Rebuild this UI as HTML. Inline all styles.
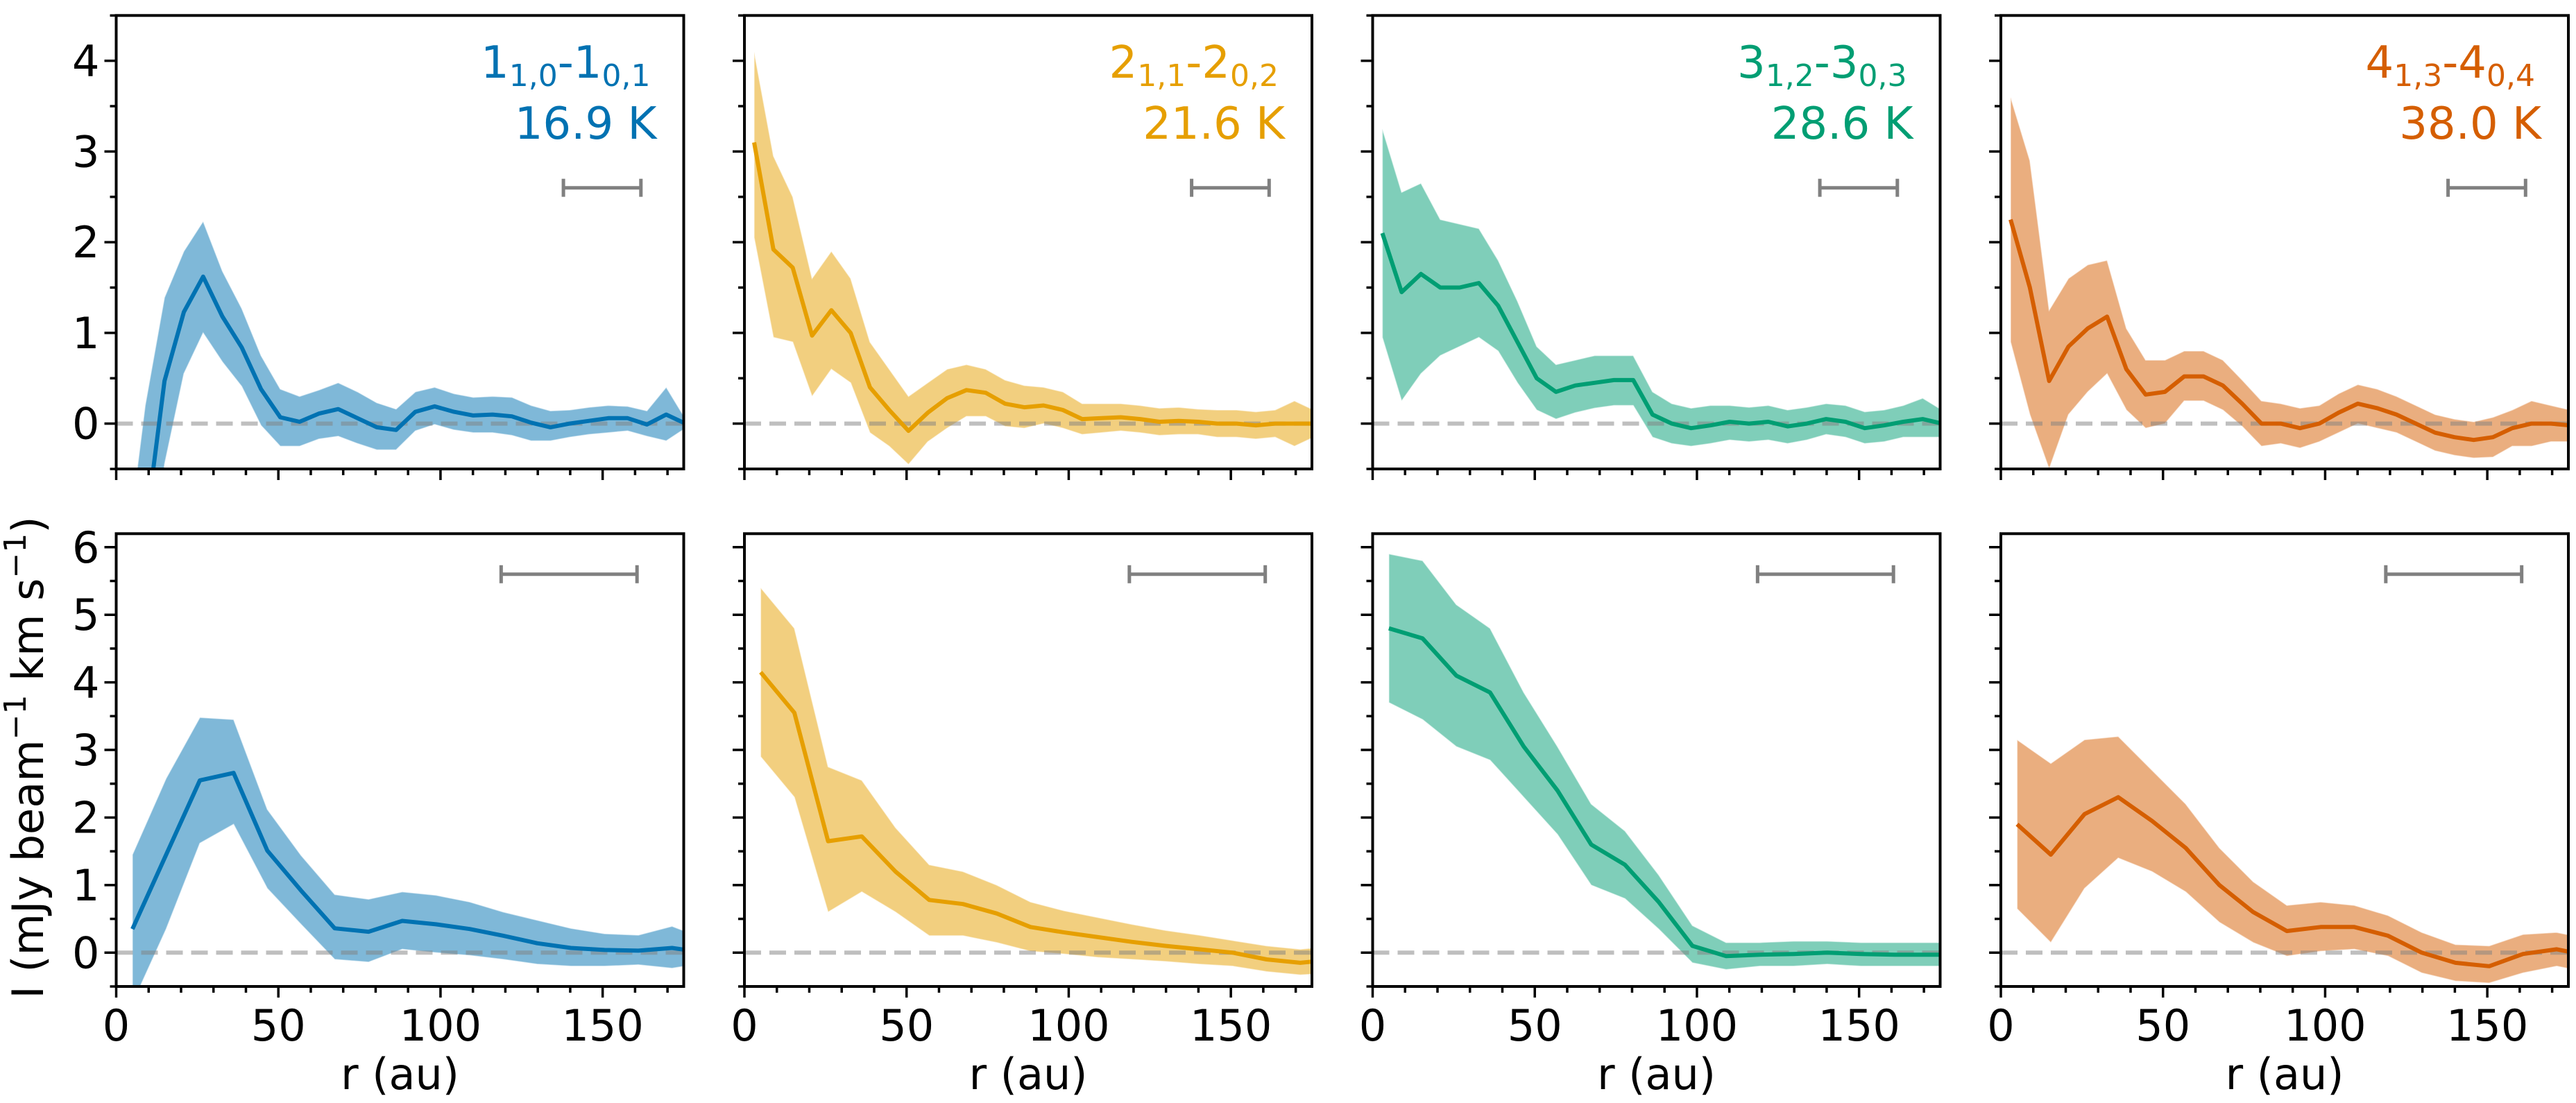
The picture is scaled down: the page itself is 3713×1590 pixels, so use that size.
<!DOCTYPE html>
<html><head><meta charset="utf-8">
<style>
html,body{margin:0;padding:0;background:#fff;}
svg{display:block;font-family:"DejaVu Sans","Liberation Sans",sans-serif;}
</style></head>
<body>
<svg id="fig" width="3713" height="1590" viewBox="0 0 3713 1590" xmlns="http://www.w3.org/2000/svg">
<rect width="3713" height="1590" fill="#fff"/>
<text transform="translate(62,1092) rotate(-90)" text-anchor="middle" font-size="62">I (mJy beam<tspan baseline-shift="super" font-size="44">−1</tspan> km s<tspan baseline-shift="super" font-size="44">−1</tspan>)</text>
</svg>
<script>
// ---- data ----
const r1 = [3,8.95,14.9,20.85,26.8,32.75,38.7,44.65,50.6,56.55,62.5,68.45,74.4,80.35,86.3,92.25,98.2,104.15,110.1,116.05,122,127.95,133.9,139.85,145.8,151.75,157.7,163.65,169.6,175.55];
const r2 = [5,15.4,25.8,36.2,46.6,57,67.4,77.8,88.2,98.6,109,119.4,129.8,140.2,150.6,161,171.4,181.8];

const top1Line = [-3,-1.2,0.47,1.23,1.62,1.18,0.84,0.38,0.07,0.02,0.11,0.16,0.06,-0.04,-0.07,0.13,0.19,0.13,0.09,0.1,0.08,0.01,-0.04,0,0.03,0.06,0.06,-0.01,0.1,0];
const top1Up   = [-1.5,0.2,1.39,1.9,2.23,1.68,1.27,0.75,0.38,0.3,0.37,0.45,0.35,0.23,0.16,0.35,0.4,0.33,0.29,0.3,0.29,0.2,0.14,0.15,0.18,0.2,0.19,0.14,0.4,0.05];
const top1Lo   = [-4.5,-2.6,-0.45,0.55,1.0,0.68,0.41,-0.02,-0.25,-0.25,-0.17,-0.14,-0.22,-0.29,-0.29,-0.08,-0.01,-0.07,-0.1,-0.1,-0.13,-0.19,-0.19,-0.15,-0.12,-0.1,-0.08,-0.14,-0.19,-0.05];

const top2Line = [3.1,1.92,1.72,0.97,1.25,1.0,0.4,0.15,-0.08,0.12,0.28,0.37,0.34,0.22,0.18,0.2,0.15,0.05,0.06,0.07,0.05,0.02,0.03,0.02,0,0,-0.02,0,0,0];
const top2Up   = [4.1,2.95,2.5,1.6,1.9,1.6,0.9,0.6,0.3,0.45,0.6,0.65,0.6,0.48,0.42,0.4,0.35,0.22,0.22,0.22,0.2,0.17,0.18,0.16,0.15,0.15,0.13,0.15,0.25,0.15];
const top2Lo   = [2.05,0.95,0.9,0.3,0.6,0.45,-0.1,-0.25,-0.45,-0.2,-0.05,0.08,0.08,-0.03,-0.05,0,-0.05,-0.12,-0.1,-0.08,-0.1,-0.13,-0.12,-0.12,-0.15,-0.15,-0.17,-0.15,-0.25,-0.15];

const top3Line = [2.1,1.45,1.65,1.5,1.5,1.55,1.3,0.9,0.5,0.35,0.42,0.45,0.48,0.48,0.1,0,-0.05,-0.02,0.02,0,0.02,-0.03,0,0.05,0.02,-0.05,-0.02,0.02,0.05,0];
const top3Up   = [3.25,2.55,2.65,2.25,2.2,2.15,1.8,1.35,0.85,0.65,0.7,0.75,0.75,0.75,0.35,0.22,0.17,0.2,0.2,0.18,0.2,0.15,0.18,0.22,0.2,0.13,0.15,0.2,0.28,0.15];
const top3Lo   = [0.95,0.25,0.55,0.75,0.85,0.95,0.8,0.45,0.15,0.05,0.12,0.17,0.2,0.2,-0.15,-0.22,-0.25,-0.22,-0.18,-0.2,-0.18,-0.22,-0.18,-0.12,-0.15,-0.22,-0.2,-0.15,-0.15,-0.15];

const top4Line = [2.25,1.5,0.47,0.85,1.05,1.18,0.6,0.32,0.35,0.52,0.52,0.42,0.22,0,0,-0.05,0,0.12,0.22,0.17,0.1,0,-0.1,-0.15,-0.18,-0.15,-0.05,0,0,-0.02];
const top4Up   = [3.6,2.9,1.25,1.6,1.75,1.8,1.05,0.7,0.7,0.8,0.8,0.7,0.48,0.25,0.22,0.17,0.2,0.33,0.43,0.38,0.3,0.2,0.1,0.05,0.02,0.07,0.15,0.25,0.2,0.15];
const top4Lo   = [0.9,0.1,-0.5,0.1,0.35,0.55,0.15,-0.05,0,0.25,0.25,0.15,-0.03,-0.25,-0.22,-0.27,-0.2,-0.1,0,-0.05,-0.1,-0.2,-0.3,-0.35,-0.38,-0.37,-0.25,-0.25,-0.2,-0.2];

const bot1Line = [0.35,1.45,2.55,2.66,1.51,0.92,0.36,0.31,0.47,0.42,0.35,0.25,0.14,0.07,0.04,0.03,0.07,0];
const bot1Up   = [1.45,2.58,3.48,3.45,2.12,1.44,0.86,0.79,0.9,0.85,0.75,0.6,0.48,0.36,0.28,0.26,0.39,0.2];
const bot1Lo   = [-0.75,0.35,1.62,1.9,0.95,0.42,-0.1,-0.14,0.05,0,-0.04,-0.1,-0.17,-0.2,-0.2,-0.18,-0.23,-0.15];

const bot2Line = [4.15,3.55,1.65,1.72,1.2,0.78,0.72,0.58,0.38,0.3,0.23,0.16,0.1,0.05,0,-0.1,-0.15,-0.1];
const bot2Up   = [5.4,4.8,2.75,2.55,1.85,1.3,1.2,1.0,0.75,0.62,0.52,0.42,0.33,0.26,0.18,0.1,0.05,0.1];
const bot2Lo   = [2.9,2.3,0.6,0.9,0.6,0.25,0.25,0.15,0.02,-0.02,-0.07,-0.1,-0.13,-0.17,-0.2,-0.28,-0.33,-0.3];

const bot3Line = [4.8,4.65,4.1,3.85,3.05,2.4,1.6,1.3,0.75,0.1,-0.05,-0.03,-0.02,0,-0.02,-0.03,-0.03,-0.03];
const bot3Up   = [5.9,5.8,5.15,4.8,3.85,3.05,2.2,1.8,1.15,0.4,0.15,0.15,0.17,0.17,0.15,0.15,0.15,0.15];
const bot3Lo   = [3.7,3.45,3.05,2.85,2.3,1.75,1.0,0.8,0.35,-0.15,-0.25,-0.2,-0.2,-0.17,-0.2,-0.2,-0.2,-0.2];

const bot4Line = [1.9,1.45,2.05,2.3,1.95,1.55,1.0,0.6,0.32,0.38,0.38,0.25,0,-0.15,-0.2,-0.02,0.05,-0.05];
const bot4Up   = [3.15,2.8,3.15,3.2,2.7,2.2,1.55,1.05,0.7,0.75,0.7,0.55,0.3,0.12,0.1,0.27,0.3,0.2];
const bot4Lo   = [0.65,0.15,0.95,1.4,1.2,0.9,0.45,0.15,-0.05,0.02,0.05,-0.05,-0.3,-0.42,-0.45,-0.3,-0.2,-0.3];

const xTickLabels = ["0","50","100","150"];
const yTicksTop = [0,1,2,3,4];
const yTicksBot = [0,1,2,3,4,5,6];
const beamTop = [137.9,161.8,2.6];
const beamBot = [118.7,160.6,5.6];

// ---- layout ----
const NS = "http://www.w3.org/2000/svg";
const svg = document.getElementById('fig');
const lefts = [167.5,1073,1978.5,2884];
const W = 818;
const colors = ["#0072B2","#E69F00","#009E73","#D55E00"];
const labels = [["1","1,0","1","0,1","16.9 K"],["2","1,1","2","0,2","21.6 K"],["3","1,2","3","0,3","28.6 K"],["4","1,3","4","0,4","38.0 K"]];
const rows = [
  {top:22.3,bot:676,ymin:-0.5,ymax:4.5,r:r1,ticks:yTicksTop,beam:beamTop,xl:false,
   data:[[top1Line,top1Up,top1Lo],[top2Line,top2Up,top2Lo],[top3Line,top3Up,top3Lo],[top4Line,top4Up,top4Lo]]},
  {top:769.3,bot:1422,ymin:-0.5,ymax:6.2,r:r2,ticks:yTicksBot,beam:beamBot,xl:true,
   data:[[bot1Line,bot1Up,bot1Lo],[bot2Line,bot2Up,bot2Lo],[bot3Line,bot3Up,bot3Lo],[bot4Line,bot4Up,bot4Lo]]}
];
function mk(tag, attrs, parent){
  const e = document.createElementNS(NS, tag);
  for (const k in attrs) e.setAttribute(k, attrs[k]);
  (parent||svg).appendChild(e);
  return e;
}
rows.forEach((row, ri) => {
  lefts.forEach((L, ci) => {
    const xs = v => L + v / 175 * W;
    const ys = v => row.bot - (v - row.ymin) / (row.ymax - row.ymin) * (row.bot - row.top);
    const g = mk('g', {});
    
    
    const cid = 'clip' + ri + ci;
    const cp = mk('clipPath', {id: cid}, g);
    mk('rect', {x: L, y: row.top, width: W, height: row.bot - row.top}, cp);
    const pg = mk('g', {'clip-path': 'url(#' + cid + ')'}, g);
    const [line, up, lo] = row.data[ci];
    let d = '';
    row.r.forEach((x, i) => { d += (i ? 'L' : 'M') + xs(x).toFixed(1) + ',' + ys(up[i]).toFixed(1); });
    for (let i = row.r.length - 1; i >= 0; i--) d += 'L' + xs(row.r[i]).toFixed(1) + ',' + ys(lo[i]).toFixed(1);
    d += 'Z';
    const band = mk('path', {d: d, fill: colors[ci], 'fill-opacity': 0.5, stroke: '#fff', 'stroke-opacity': 0.5, 'stroke-width': 1.5}, pg);
    
    
    const zl = mk('line', {x1: L, x2: L + W, y1: ys(0), y2: ys(0), stroke: '#808080', 'stroke-opacity': 0.5, 'stroke-width': 6, 'stroke-dasharray': '24,12'}, pg);
    
    
    let dl = '';
    row.r.forEach((x, i) => { dl += (i ? 'L' : 'M') + xs(x).toFixed(1) + ',' + ys(line[i]).toFixed(1); });
    const pl = mk('path', {d: dl, fill: 'none', stroke: colors[ci], 'stroke-width': 6, 'stroke-linejoin': 'round'}, pg);
    
    
    // beam bar
    const [b0, b1, by] = row.beam;
    const bg = mk('g', {stroke: '#808080', 'stroke-width': 5}, g);
    
    
    mk('line', {x1: xs(b0), x2: xs(b1), y1: ys(by), y2: ys(by)}, bg);
    mk('line', {x1: xs(b0), x2: xs(b0), y1: ys(by) - 13, y2: ys(by) + 13}, bg);
    mk('line', {x1: xs(b1), x2: xs(b1), y1: ys(by) - 13, y2: ys(by) + 13}, bg);
    // ticks
    const tg = mk('g', {stroke: '#000', 'stroke-width': 3.5}, g);
    for (let v = 0; v <= 175; v += 10) {
      const major = v % 50 === 0;
      mk('line', {x1: xs(v), x2: xs(v), y1: row.bot, y2: row.bot + (major ? 16 : 9)}, tg);
    }
    for (let v = -0.5; v <= row.ymax + 1e-6; v += 0.5) {
      const major = Math.abs(v - Math.round(v)) < 1e-6;
      mk('line', {x1: L, x2: L - (major ? 17 : 9), y1: ys(v), y2: ys(v)}, tg);
    }
    if (ci === 0) {
      row.ticks.forEach(t => {
        const tl = mk('text', {x: L - 24, y: ys(t) + 22, 'text-anchor': 'end', 'font-size': 62}, g);
        
        
        tl.textContent = String(t);
      });
    }
    if (row.xl) {
      xTickLabels.forEach((t, i) => {
        const tl = mk('text', {x: xs(i * 50), y: 1500, 'text-anchor': 'middle', 'font-size': 62}, g);
        
        
        tl.textContent = t;
      });
      const xt = mk('text', {x: L + W / 2, y: 1570, 'text-anchor': 'middle', 'font-size': 62}, g);
      
      
      xt.textContent = 'r (au)';
    } else {
      const lb = labels[ci];
      const t1 = mk('text', {x: L + 770, y: 112, 'text-anchor': 'end', 'font-size': 64, fill: colors[ci]}, g);
      
      
      const parts = [[lb[0], 0], [lb[1], 1], ['-' + lb[2], 0], [lb[3], 1]];
      parts.forEach(p => {
        const ts = mk('tspan', p[1] ? {'font-size': 44, dy: 12} : {dy: parts.indexOf(p) ? -12 : 0}, t1);
        ts.textContent = p[0];
      });
      const t2 = mk('text', {x: L + 779, y: 200, 'text-anchor': 'end', 'font-size': 64, fill: colors[ci]}, g);
      
      
      t2.textContent = lb[4];
    }
    const fr = mk('rect', {x: L, y: row.top, width: W, height: row.bot - row.top, fill: 'none', stroke: '#000', 'stroke-width': 4}, g);
    
    
  });
});
</script>
</body></html>
